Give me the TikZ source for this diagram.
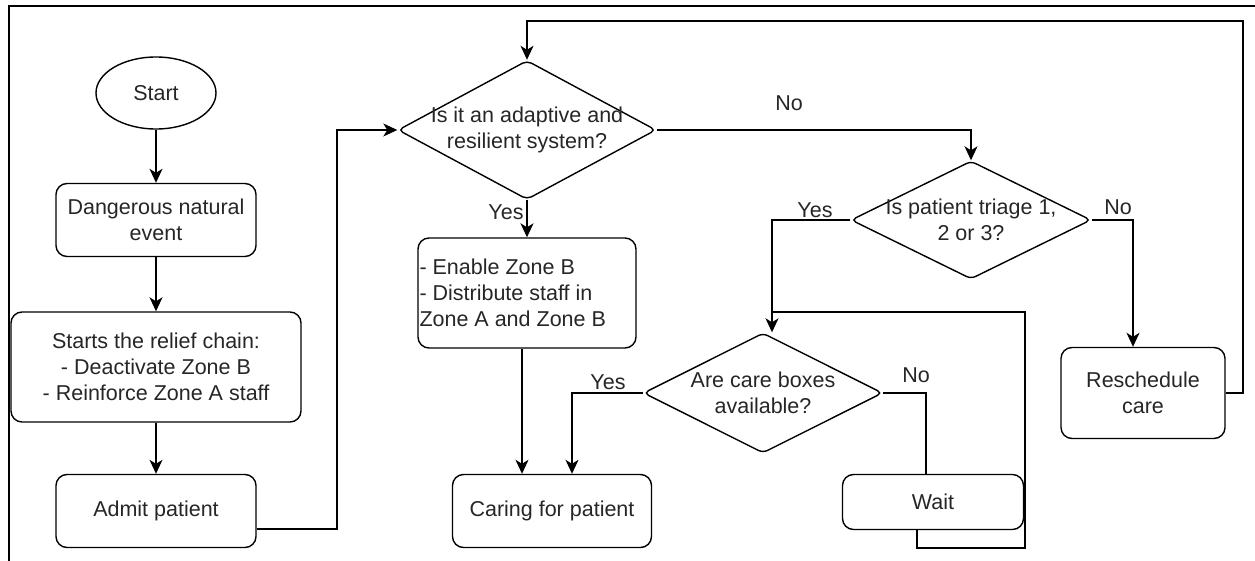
\documentclass[tikz,border=0pt]{standalone}
\usepackage{fontspec}
\setmainfont{Liberation Sans}
\usetikzlibrary{shapes,arrows.meta}

\tikzset{
  box/.style={draw, line width=1.4pt, rounded corners=11pt, inner sep=0pt, align=center},
  dia/.style={draw, diamond, line width=1.4pt, rounded corners=5pt, inner sep=0pt},
  txt/.style={align=center, inner sep=0pt},
  lbl/.style={inner sep=0pt},
  arr/.style={line width=1.4pt, -{Stealth[length=14pt,width=13pt,inset=4pt]}},
  wire/.style={line width=1.4pt}
}

\begin{document}
\begin{tikzpicture}[x=1pt, y=-1pt, font=\fontsize{21.5}{26}\selectfont, text=black!85]
  \useasboundingbox (0,0) rectangle (1255,561);
  \draw[line width=1.4pt] (1255,6) -- (9,6) -- (9,561);

  % left column
  \node[draw, ellipse, line width=1.4pt, minimum width=120pt, minimum height=72pt, inner sep=0pt] (start) at (156,93) {Start};
  \node[box, minimum width=200pt, minimum height=73pt] (danger) at (156,220) {Dangerous natural\\event};
  \node[box, minimum width=290pt, minimum height=110pt] (relief) at (156,367) {Starts the relief chain:\\- Deactivate Zone B\\- Reinforce Zone A staff};
  \node[box, minimum width=200pt, minimum height=73pt] (admit) at (156,511) {Admit patient};

  % decisions
  \node[dia, minimum width=258pt, minimum height=139pt] (adapt) at (527,130) {};
  \node[txt] (adaptt) at (adapt) {Is it an adaptive and\\resilient system?};
  \node[dia, minimum width=240pt, minimum height=118pt] (triage) at (971,220) {};
  \node[txt] (triaget) at (triage) {Is patient triage 1,\\2 or 3?};
  \node[dia, minimum width=239pt, minimum height=120pt] (boxes) at (763,393) {};
  \node[txt] (boxest) at (boxes) {Are care boxes\\available?};

  % actions
  \node[box, minimum width=218pt, minimum height=110pt] (zoneb) at (527,293) {};
  \node[txt, align=left, anchor=west] (zonebt) at ([xshift=2pt]zoneb.west) {- Enable Zone B\\- Distribute staff in\\Zone A and Zone B};
  \node[box, minimum width=199pt, minimum height=73pt] (care) at (552,511) {Caring for patient};
  \node[box, minimum width=164pt, minimum height=91pt] (resched) at (1143,393) {Reschedule\\care};
  \node[box, minimum width=181pt, minimum height=55pt] (wait) at (933,502) {Wait};

  \coordinate (k1) at (337,130);
  \coordinate (k3) at (1243,21);
  \coordinate (k4) at (1025,548);
  \coordinate (k5) at (772,312);

  \draw[arr] (start) -- (danger);
  \draw[arr] (danger) -- (relief);
  \draw[arr] (relief) -- (admit);
  \draw[arr] ([yshift=-18pt]admit.east) -| (k1) -- (adapt.west);
  \draw[arr] (adapt.south) -- (zoneb.north);
  \draw[arr] (adapt.east) -| (triage.north);
  \draw[arr] ([xshift=-5pt]zoneb.south) -- ([xshift=-5pt]zoneb.south |- care.north);
  \draw[arr] (triage.west) -| ([xshift=9pt]boxes.north);
  \draw[arr] (triage.east) -| ([xshift=-10pt]resched.north);
  \draw[arr] (resched.east) -| (k3) -| (adapt.north);
  \draw[arr] (boxes.west) -| ([xshift=20pt]care.north);
  \draw[wire] (boxes.east) -| ([xshift=-7pt]wait.north);
  \draw[wire] ([xshift=-16pt]wait.south) |- (k4) |- (k5);

  % branch labels
  \node[lbl] (no1) at (789,103) {No};
  \node[lbl] (yes1) at (506,212) {Yes};
  \node[lbl] (yes2) at (815,210) {Yes};
  \node[lbl] (no2) at (1118,207) {No};
  \node[lbl] (yes3) at (608,382) {Yes};
  \node[lbl] (no3) at (916,375) {No};
\end{tikzpicture}
\end{document}
